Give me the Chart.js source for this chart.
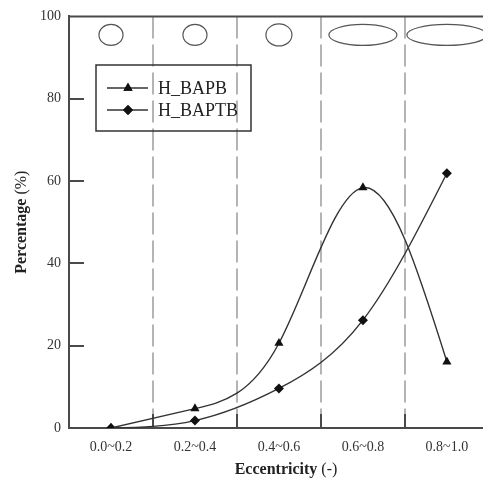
<!DOCTYPE html>
<html>
<head>
<meta charset="utf-8">
<script src="https://cdn.jsdelivr.net/npm/chart.js@4.4.1/dist/chart.umd.min.js"></script>
<style>
  html, body { margin: 0; padding: 0; background: #fff; overflow: hidden; }
  #wrap { width: 483px; height: 479px; }
</style>
</head>
<body>
<div id="wrap"><canvas id="chart-ecc" width="483" height="479"></canvas></div>
<script>
// Eccentricity bins and share of particles in each (%)
const categories = ['0.0~0.2', '0.2~0.4', '0.4~0.6', '0.6~0.8', '0.8~1.0'];
const bapb = [0, 4.7, 20.6, 58.4, 16.1];
const baptb = [0, 1.8, 9.6, 26.2, 61.9];
const yTicks = [0, 20, 40, 60, 80, 100];

const SERIF = '"Liberation Serif", "Times New Roman", serif';
const INK = '#333';
const AXIS = '#4a4a4a';

// outline sketches above each bin: [rx, ry]
const shapeSize = [[12, 10.5], [12, 10.5], [13, 11], [34, 10.5], [40, 10.5]];

const toXY = (arr) => arr.map((v, i) => ({ x: i, y: v }));

// natural cubic spline through the point elements -> bezier control points
function setNaturalSpline(pts) {
  const n = pts.length;
  const xs = pts.map((p) => p.x), ys = pts.map((p) => p.y);
  const h = [];
  for (let i = 0; i < n - 1; i++) h[i] = xs[i + 1] - xs[i];
  const M = new Array(n).fill(0);
  const cp = [], dp = [];
  for (let i = 1; i < n - 1; i++) {
    const a = h[i - 1], b = 2 * (h[i - 1] + h[i]), c = h[i];
    const d = 6 * ((ys[i + 1] - ys[i]) / h[i] - (ys[i] - ys[i - 1]) / h[i - 1]);
    const m = i === 1 ? b : b - a * cp[i - 1];
    cp[i] = c / m;
    dp[i] = i === 1 ? d / m : (d - a * dp[i - 1]) / m;
  }
  for (let i = n - 2; i >= 1; i--) {
    M[i] = dp[i] - (i < n - 2 ? cp[i] * M[i + 1] : 0);
  }
  pts[0].cp1x = xs[0]; pts[0].cp1y = ys[0];
  pts[n - 1].cp2x = xs[n - 1]; pts[n - 1].cp2y = ys[n - 1];
  for (let i = 0; i < n - 1; i++) {
    const sec = (ys[i + 1] - ys[i]) / h[i];
    const s0 = sec - h[i] * (2 * M[i] + M[i + 1]) / 6;
    const s1 = sec + h[i] * (M[i] + 2 * M[i + 1]) / 6;
    pts[i].cp2x = xs[i] + h[i] / 3;
    pts[i].cp2y = ys[i] + s0 * h[i] / 3;
    pts[i + 1].cp1x = xs[i + 1] - h[i] / 3;
    pts[i + 1].cp1y = ys[i + 1] - s1 * h[i] / 3;
  }
}

const splinePlugin = {
  id: 'naturalSpline',
  beforeDatasetsDraw(chart) {
    chart.data.datasets.forEach((_, i) => {
      const meta = chart.getDatasetMeta(i);
      setNaturalSpline(meta.data);
      meta.dataset._pointsUpdated = true;
    });
  }
};

// dashed bin boundaries, inward tick marks, top frame line
const framePlugin = {
  id: 'frame',
  beforeDatasetsDraw(chart) {
    const { ctx, chartArea: a, scales: { x, y } } = chart;
    ctx.save();
    ctx.strokeStyle = '#b4b4b4';
    ctx.lineWidth = 2;
    ctx.setLineDash([22, 6]);
    for (let i = 0; i < categories.length - 1; i++) {
      const px = Math.round(x.getPixelForValue(i + 0.5));
      ctx.beginPath();
      ctx.moveTo(px, a.top);
      ctx.lineTo(px, a.bottom);
      ctx.stroke();
    }
    ctx.setLineDash([]);
    ctx.strokeStyle = AXIS;
    ctx.lineWidth = 2;
    for (let i = 0; i < categories.length - 1; i++) {
      const px = Math.round(x.getPixelForValue(i + 0.5));
      ctx.beginPath();
      ctx.moveTo(px, a.bottom);
      ctx.lineTo(px, a.bottom - 14);
      ctx.stroke();
    }
    yTicks.slice(1, -1).forEach((v) => {
      const py = Math.round(y.getPixelForValue(v));
      ctx.beginPath();
      ctx.moveTo(a.left, py);
      ctx.lineTo(a.left + 15, py);
      ctx.stroke();
    });
    ctx.beginPath();
    ctx.moveTo(a.left, a.top);
    ctx.lineTo(a.right, a.top);
    ctx.stroke();
    ctx.restore();
  },
  afterDraw(chart) {
    const { ctx, chartArea: a, scales: { x, y } } = chart;
    ctx.save();

    // shape outlines near the top
    ctx.strokeStyle = '#555';
    ctx.lineWidth = 1.2;
    shapeSize.forEach(([rx, ry], i) => {
      ctx.beginPath();
      ctx.ellipse(x.getPixelForValue(i), y.getPixelForValue(95.5), rx, ry, 0, 0, Math.PI * 2);
      ctx.stroke();
    });

    // legend box
    const lx = 96, ly = 65, lw = 155, lh = 66;
    ctx.strokeStyle = '#333';
    ctx.lineWidth = 1.5;
    ctx.strokeRect(lx, ly, lw, lh);
    chart.data.datasets.forEach((ds, i) => {
      const ry = ly + 23 + i * 22;
      ctx.strokeStyle = INK;
      ctx.lineWidth = 1.3;
      ctx.beginPath();
      ctx.moveTo(lx + 11, ry);
      ctx.lineTo(lx + 52, ry);
      ctx.stroke();
      ctx.fillStyle = '#111';
      Chart.helpers.drawPoint(ctx, { pointStyle: ds.pointStyle, radius: ds.pointRadius, rotation: 0, borderWidth: 0 }, lx + 32, ry);
      ctx.fill();
      ctx.fillStyle = '#222';
      ctx.font = '18px ' + SERIF;
      ctx.textAlign = 'left';
      ctx.textBaseline = 'middle';
      ctx.fillText(ds.label, lx + 62, ry + 1);
    });

    // axis titles: bold word + plain unit
    const drawTitle = (bold, plain, cx, cy, rot) => {
      ctx.save();
      ctx.translate(cx, cy);
      ctx.rotate(rot);
      ctx.fillStyle = '#222';
      ctx.textBaseline = 'middle';
      ctx.font = 'bold 16px ' + SERIF;
      const wb = ctx.measureText(bold).width;
      ctx.font = '16px ' + SERIF;
      const wp = ctx.measureText(plain).width;
      let sx = -(wb + wp) / 2;
      ctx.textAlign = 'left';
      ctx.font = 'bold 16px ' + SERIF;
      ctx.fillText(bold, sx, 0);
      ctx.font = '16px ' + SERIF;
      ctx.fillText(plain, sx + wb, 0);
      ctx.restore();
    };
    drawTitle('Eccentricity', ' (-)', 286, 470, 0);
    drawTitle('Percentage', ' (%)', 22, (a.top + a.bottom) / 2, -Math.PI / 2);
    ctx.restore();
  }
};

const ctx = document.getElementById('chart-ecc').getContext('2d');
const eccChart = new Chart(ctx, {
  type: 'line',
  data: {
    datasets: [
      {
        label: 'H_BAPB',
        data: toXY(bapb),
        tension: 0.4,
        borderWidth: 1.4,
        borderColor: INK,
        pointStyle: 'triangle',
        pointRadius: 5.3,
        pointBackgroundColor: '#111',
        pointBorderWidth: 0,
        fill: false,
      },
      {
        label: 'H_BAPTB',
        data: toXY(baptb),
        tension: 0.4,
        borderWidth: 1.4,
        borderColor: INK,
        pointStyle: 'rectRot',
        pointRadius: 5,
        pointBackgroundColor: '#111',
        pointBorderWidth: 0,
        fill: false,
      },
    ],
  },
  options: {
    responsive: false,
    animation: false,
    layout: { autoPadding: false, padding: { top: 12, right: 0, bottom: 0, left: 0 } },
    plugins: {
      legend: { display: false },
      tooltip: { enabled: false },
    },
    scales: {
      x: {
        type: 'linear',
        min: -0.5,
        max: 4.43,
        afterBuildTicks: (s) => { s.ticks = categories.map((_, i) => ({ value: i })); },
        afterFit: (s) => { s.height = 51; s.paddingLeft = 0; s.paddingRight = 0; },
        grid: { display: false, drawTicks: false },
        border: { display: true, color: AXIS, width: 2 },
        ticks: {
          color: INK,
          padding: 11,
          maxRotation: 0,
          autoSkip: false,
          font: { family: SERIF, size: 14 },
          callback: (v) => categories[v],
        },
      },
      y: {
        min: 0,
        max: 100,
        afterBuildTicks: (s) => { s.ticks = yTicks.map((v) => ({ value: v })); },
        afterFit: (s) => { s.width = 69; },
        grid: { display: false, drawTicks: false },
        border: { display: true, color: AXIS, width: 2 },
        ticks: {
          color: INK,
          padding: 8,
          font: { family: SERIF, size: 14 },
        },
      },
    },
  },
  plugins: [splinePlugin, framePlugin],
});
</script>
</body>
</html>
